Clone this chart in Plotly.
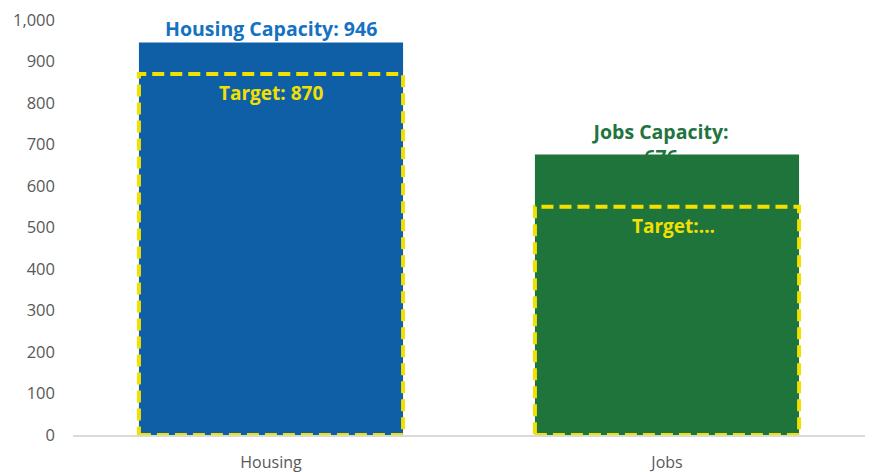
import plotly.graph_objects as go

categories = ["Housing", "Jobs"]
capacity = [946, 676]
targets = [870, 550]
bar_colors = ["#0F5FA6", "#1F743C"]
label_colors = ["#1572C2", "#217340"]
capacity_labels = ["Housing Capacity: 946", "Jobs Capacity:<br>676"]
target_labels = ["Target: 870", "Target:..."]
y_ticks = [0, 100, 200, 300, 400, 500, 600, 700, 800, 900, 1000]

FONT = "Open Sans"
YELLOW = "#F2E000"
BAR_W = 0.667
xs = list(range(len(categories)))

fig = go.Figure(go.Bar(
    x=xs, y=capacity, width=BAR_W,
    marker=dict(color=bar_colors, line=dict(width=0)),
    hoverinfo="skip",
))

target_xshift = [0, 6]  # truncated jobs label sits a little right of centre
for i, (cap, tgt) in enumerate(zip(capacity, targets)):
    # dashed target outline over the bar
    fig.add_shape(
        type="rect", xref="x", yref="y",
        x0=i - BAR_W / 2, x1=i + BAR_W / 2, y0=0, y1=tgt,
        line=dict(color=YELLOW, width=4, dash="12px,6px"),
        layer="above",
    )
    fig.add_annotation(
        x=i, y=tgt, text=f"<b>{target_labels[i]}</b>", showarrow=False,
        yanchor="top", yshift=-4, xshift=target_xshift[i],
        font=dict(family=FONT, size=19, color=YELLOW),
    )

# housing capacity label sits clear of the bar
fig.add_annotation(
    x=0, y=capacity[0], text=f"<b>{capacity_labels[0]}</b>", showarrow=False,
    yanchor="bottom", yshift=-2,
    font=dict(family=FONT, size=19.5, color=label_colors[0]),
)

# jobs label wraps, second line hides behind the bar (shape below traces)
fig.add_shape(
    type="line", xref="x", yref="y",
    x0=1 - 0.3 - 0.015, x1=1 + 0.3 - 0.015,
    y0=capacity[1] - 41, y1=capacity[1] - 41,
    line=dict(width=0), layer="below",
    label=dict(
        text=f"<b>{capacity_labels[1]}</b>", textposition="middle",
        yanchor="bottom", padding=0,
        font=dict(family=FONT, size=19.5, color=label_colors[1]),
    ),
)

fig.update_xaxes(
    range=[-0.5, 1.5], tickvals=xs, ticktext=categories,
    showline=True, linecolor="#D9D9D9", linewidth=2,
    showgrid=False, ticks="", ticklen=0, ticklabelstandoff=12,
    automargin=False,
    tickfont=dict(family=FONT, size=16, color="#595959"),
)
fig.update_yaxes(
    range=[0, 1000], tickvals=y_ticks, tickformat=",",
    showgrid=False, zeroline=False, showline=False,
    ticks="", ticklabelstandoff=17, ticklabeloverflow="allow",
    automargin=False,
    tickfont=dict(family=FONT, size=16.5, color="#595959"),
)
# page body adds an 8px offset, so the figure is trimmed to fit
fig.update_layout(
    width=874, height=464,
    margin=dict(l=65, r=17, t=12, b=37),
    plot_bgcolor="white", paper_bgcolor="white",
    showlegend=False,
)

fig.write_html("out.html")
